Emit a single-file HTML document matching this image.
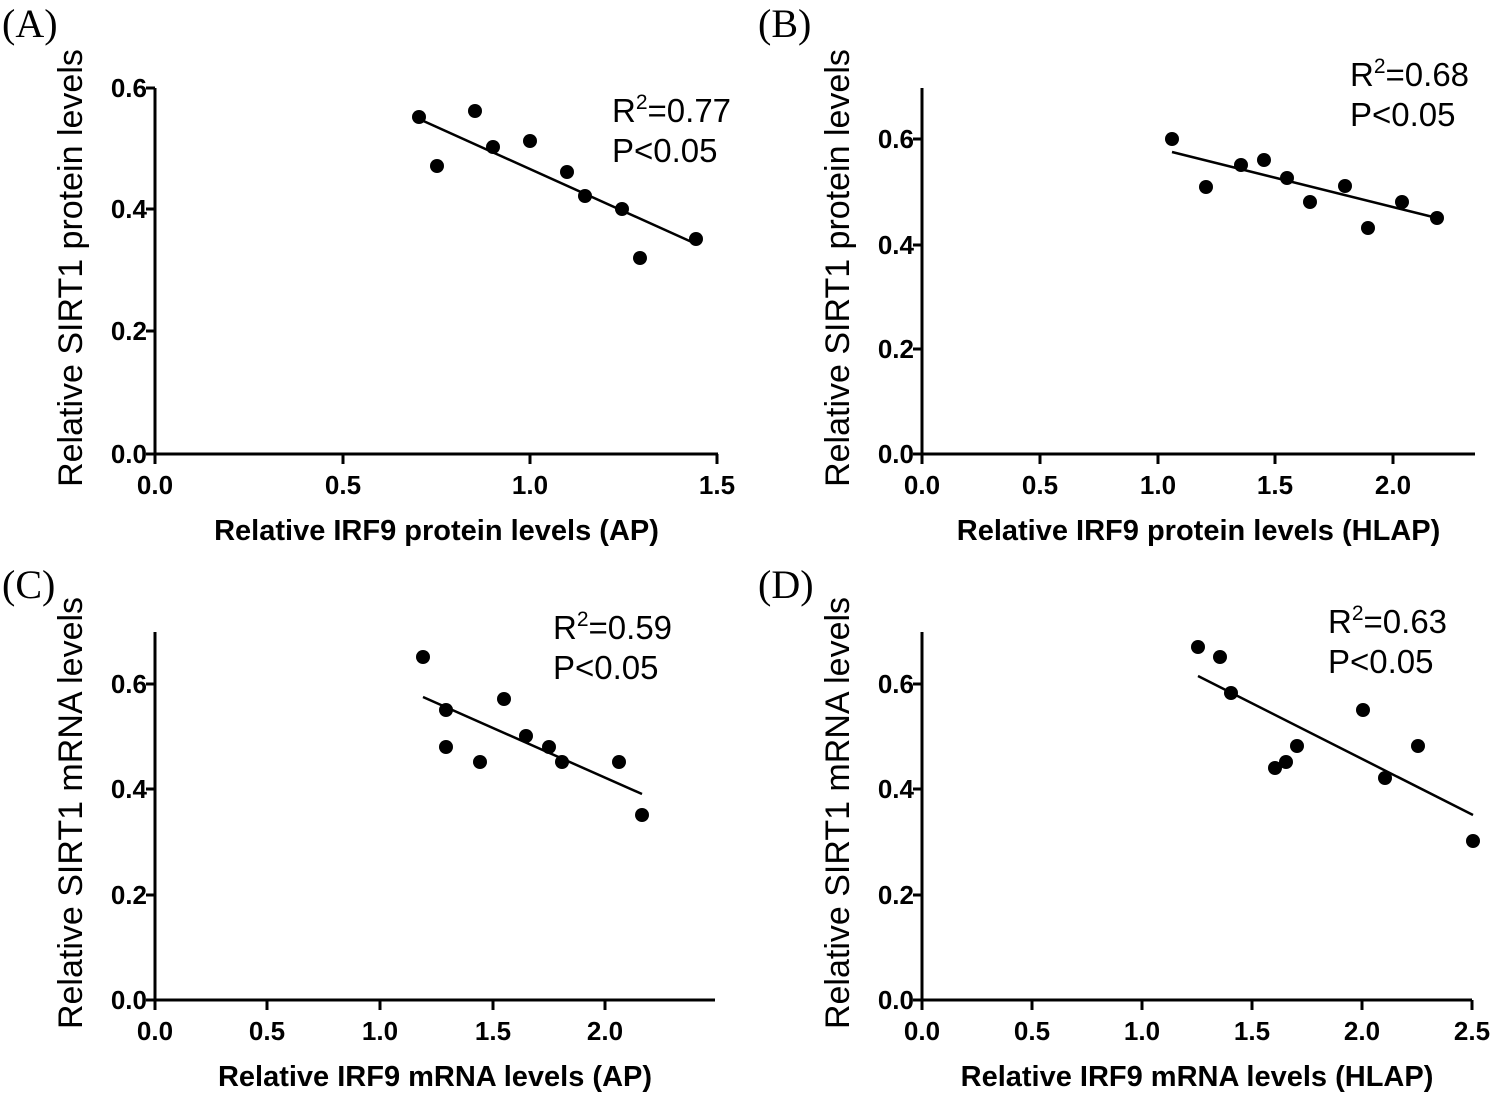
<!DOCTYPE html><html><head><style>body{margin:0;background:#fff}</style></head><body>
<svg id="s" width="1494" height="1092" xmlns="http://www.w3.org/2000/svg" font-family="Liberation Sans, Arial, sans-serif"></svg>
<script>
const s=document.getElementById('s');let h='';
function P(o){
 const {x0,y0,xr,yt,xt,yt2,lab,lx,ly,yl,xl,pts,line,tx,ty,r2}=o;
 h+=`<text x="${lx}" y="${ly}" font-family="Liberation Serif,serif" font-size="40">${lab}</text>`;
 h+=`<path d="M${x0} ${yt}V${y0}H${xr}" stroke="#000" stroke-width="3" fill="none"/>`;
 xt.forEach(([v,x])=>{h+=`<line x1="${x}" y1="${y0}" x2="${x}" y2="${y0+10}" stroke="#000" stroke-width="3"/><text x="${x}" y="${y0+40}" font-size="26" font-weight="bold" text-anchor="middle">${v}</text>`});
 yt2.forEach(([v,y])=>{h+=`<line x1="${x0-9}" y1="${y}" x2="${x0}" y2="${y}" stroke="#000" stroke-width="3"/><text x="${x0-8}" y="${y+9}" font-size="26" font-weight="bold" text-anchor="end">${v}</text>`});
 h+=`<text transform="translate(${x0-73},${(yt+y0)/2-3}) rotate(-90)" font-size="34" text-anchor="middle">${yl}</text>`;
 h+=`<text x="${(x0+xr)/2}" y="${y0+86}" font-size="29" font-weight="bold" text-anchor="middle">${xl}</text>`;
 pts.forEach(([x,y])=>{h+=`<circle cx="${x}" cy="${y}" r="7"/>`});
 h+=`<line x1="${line[0]}" y1="${line[1]}" x2="${line[2]}" y2="${line[3]}" stroke="#000" stroke-width="2.5"/>`;
 h+=`<text x="${tx}" y="${ty}" font-size="33">R<tspan dy="-13" font-size="21">2</tspan><tspan dy="13">=${r2}</tspan></text><text x="${tx}" y="${ty+40}" font-size="33">P&lt;0.05</text>`;
}
P({x0:155,y0:454,xr:718,yt:88,lab:'(A)',lx:2,ly:37,yl:'Relative SIRT1 protein levels',xl:'Relative IRF9 protein levels (AP)',
 xt:[['0.0',155],['0.5',343],['1.0',530],['1.5',717]],yt2:[['0.0',454],['0.2',331],['0.4',209],['0.6',88]],
 pts:[[419,117],[437,166],[475,111],[493,147],[530,141],[567,172],[585,196],[622,209],[640,258],[696,239]],line:[419,119,694,243],tx:612,ty:122,r2:'0.77'});
P({x0:922,y0:454,xr:1475,yt:88,lab:'(B)',lx:758,ly:37,yl:'Relative SIRT1 protein levels',xl:'Relative IRF9 protein levels (HLAP)',
 xt:[['0.0',922],['0.5',1040],['1.0',1158],['1.5',1275],['2.0',1393]],yt2:[['0.0',454],['0.2',349],['0.4',245],['0.6',139]],
 pts:[[1172,139],[1206,187],[1241,165],[1264,160],[1287,178],[1310,202],[1345,186],[1368,228],[1402,202],[1437,218]],line:[1172,152,1437,218],tx:1350,ty:86,r2:'0.68'});
P({x0:155,y0:1000,xr:715,yt:632,lab:'(C)',lx:2,ly:598,yl:'Relative SIRT1 mRNA levels',xl:'Relative IRF9 mRNA levels (AP)',
 xt:[['0.0',155],['0.5',267],['1.0',380],['1.5',493],['2.0',605]],yt2:[['0.0',1000],['0.2',895],['0.4',789],['0.6',684]],
 pts:[[423,657],[446,710],[446,747],[480,762],[504,699],[526,736],[549,747],[562,762],[619,762],[642,815]],line:[423,697,642,794],tx:553,ty:639,r2:'0.59'});
P({x0:922,y0:1000,xr:1472,yt:632,lab:'(D)',lx:758,ly:598,yl:'Relative SIRT1 mRNA levels',xl:'Relative IRF9 mRNA levels (HLAP)',
 xt:[['0.0',922],['0.5',1032],['1.0',1142],['1.5',1252],['2.0',1362],['2.5',1472]],yt2:[['0.0',1000],['0.2',895],['0.4',789],['0.6',684]],
 pts:[[1198,647],[1220,657],[1231,693],[1275,768],[1286,762],[1297,746],[1363,710],[1385,778],[1418,746],[1473,841]],line:[1198,676,1473,815],tx:1328,ty:633,r2:'0.63'});
s.innerHTML=h;
</script></body></html>
